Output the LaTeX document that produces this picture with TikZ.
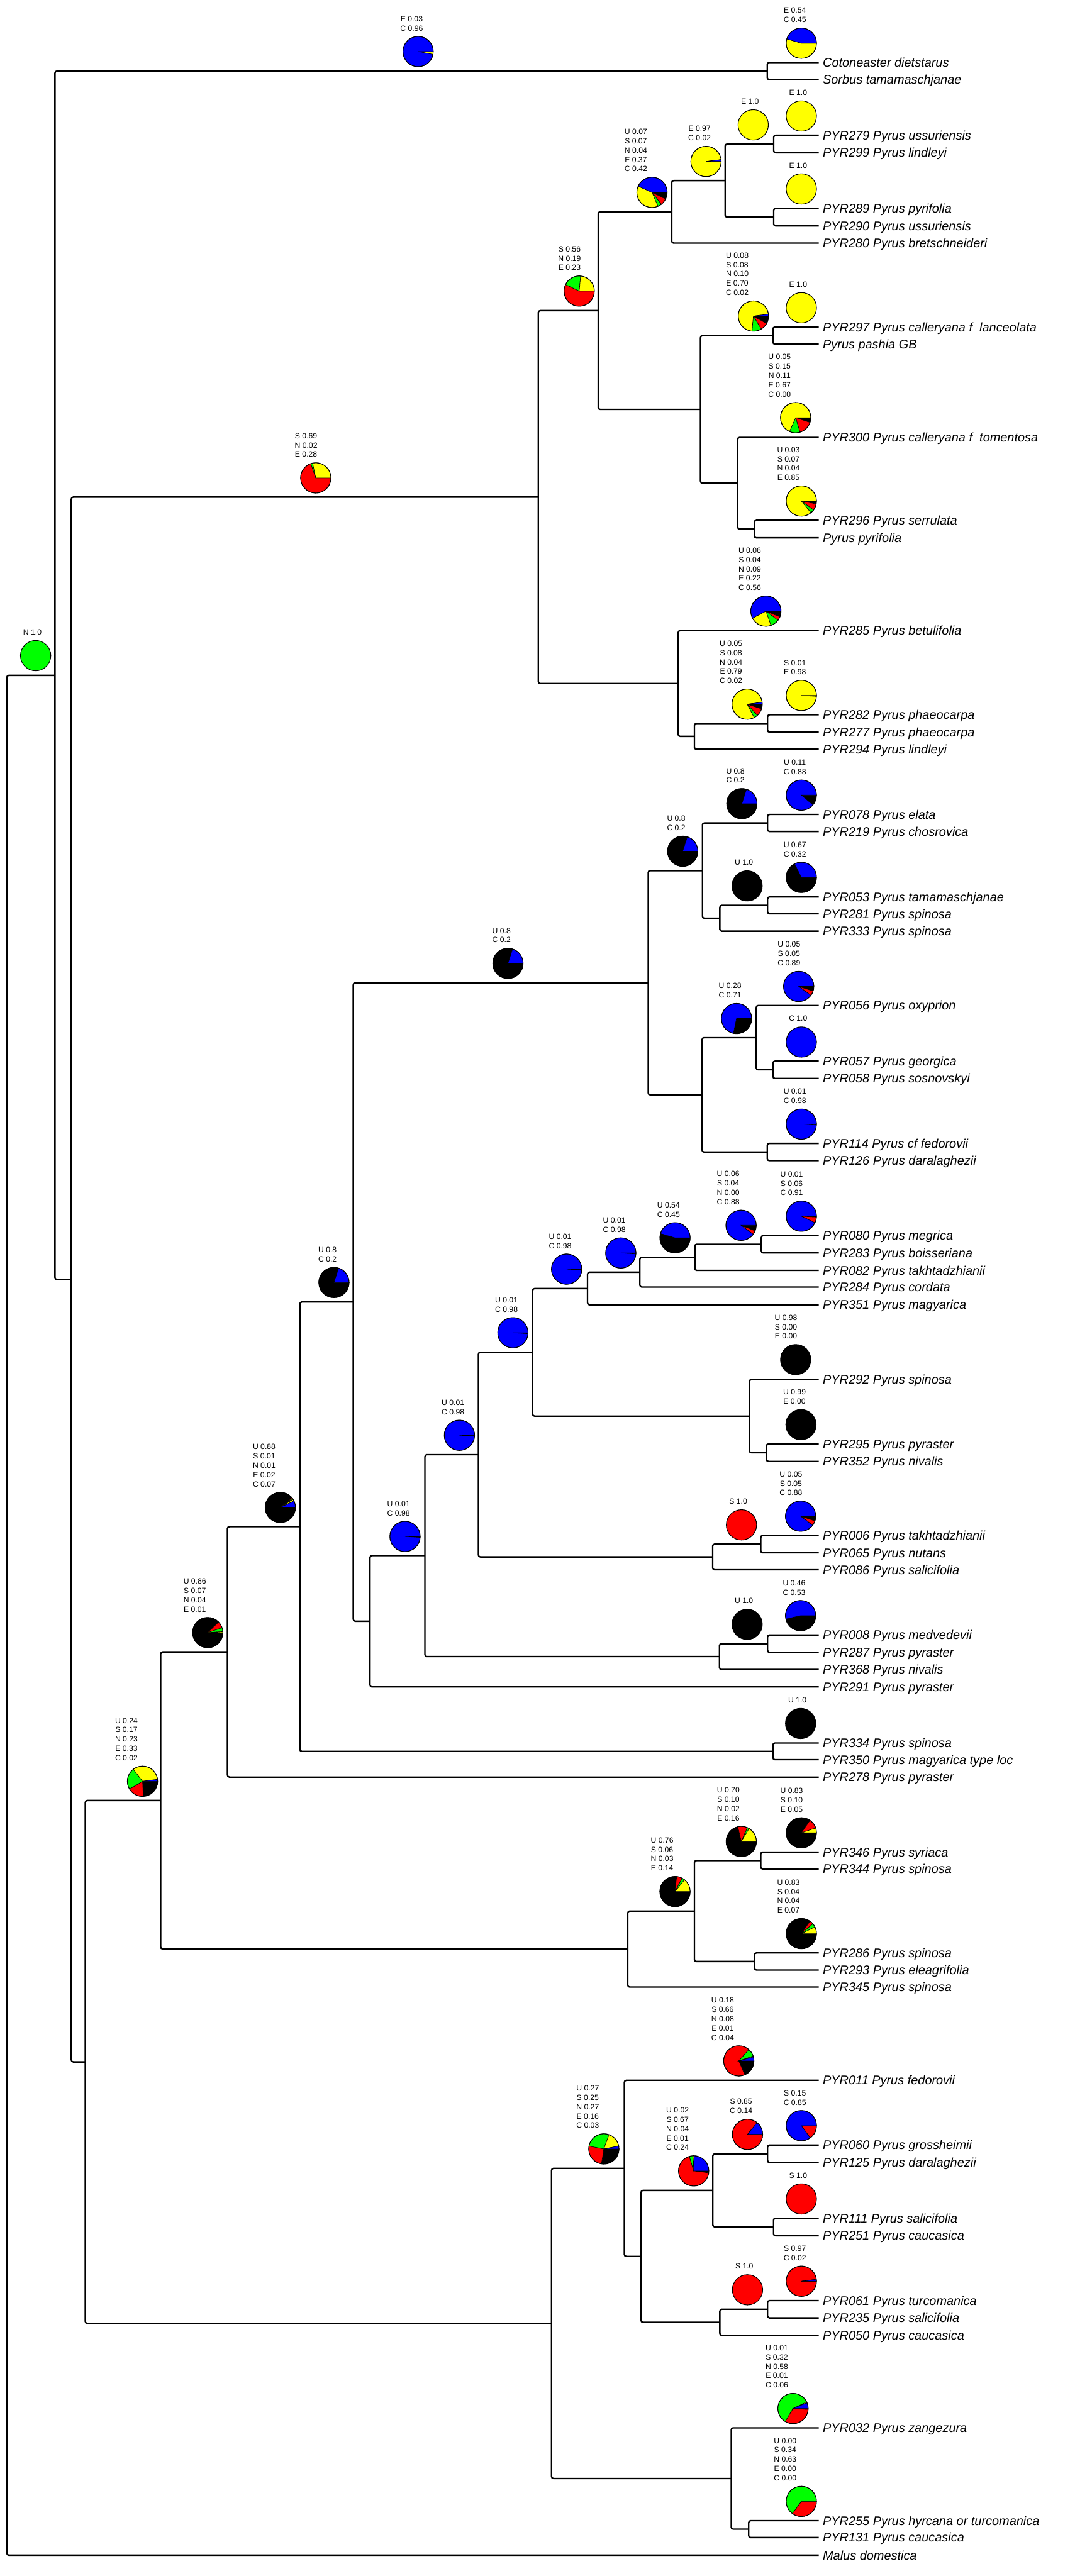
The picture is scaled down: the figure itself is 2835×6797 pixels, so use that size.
\documentclass[tikz,border=0pt]{standalone}
\usepackage{fontspec}
\setmainfont{Liberation Sans}
\definecolor{sblue}{RGB}{0,0,255}
\definecolor{sred}{RGB}{255,0,0}
\definecolor{sgreen}{RGB}{0,255,0}
\definecolor{syellow}{RGB}{255,255,0}

\newcommand{\pieslice}[2]{%
  \pgfmathsetmacro{\piefrac}{#1/\pietot}%
  \ifdim\piefrac pt>0.999pt
    \fill[#2] (0,0) circle (0.4);
  \else\ifdim\piefrac pt>0.0005pt
    \pgfmathsetmacro{\pieend}{\piestart-360*\piefrac}%
    \filldraw[fill=#2, draw=black, line width=0.3pt] (0,0) -- (\piestart:0.4) arc[start angle=\piestart, end angle=\pieend, radius=0.4] -- cycle;
    \let\piestart\pieend
  \fi\fi}

\newcommand{\piechart}[9]{%
  \coordinate (#1) at #2;
  \pgfmathsetmacro{\pietot}{#3+#4+#5+#6+#7}%
  \begin{scope}[shift={(#1)}, x=1cm, y=1cm]
    \def\piestart{0}%
    \pieslice{#3}{black}
    \pieslice{#4}{sred}
    \pieslice{#5}{sgreen}
    \pieslice{#6}{syellow}
    \pieslice{#7}{sblue}
    \draw[line width=0.5pt] (0,0) circle (0.4);
  \end{scope}
  \pgfmathsetmacro{\piexs}{-0.085*#8}%
  \node[pielabel] (#1l) at ([xshift=\piexs cm, yshift=0.537cm]#1) {#9};
}

\begin{document}
\begin{tikzpicture}[x=0.01cm, y=-0.01cm,
    branch/.style={line width=1.1pt, rounded corners=1.5pt},
    tiplabel/.style={anchor=base west, inner sep=0pt, xshift=0.1cm, yshift=-3.35pt, font=\fontsize{9.4}{11}\selectfont\itshape},
    pielabel/.style={anchor=south, inner sep=0pt, align=center, font=\fontsize{5.75}{7}\selectfont}]
\useasboundingbox (0,0) rectangle (2835,6797);

% tips
\coordinate (tCot) at (2160,165);   \node[tiplabel] (lCot) at (tCot) {Cotoneaster dietstarus};
\coordinate (tSor) at (2160,210);   \node[tiplabel] (lSor) at (tSor) {Sorbus tamamaschjanae};
\coordinate (t279) at (2160,357);   \node[tiplabel] (l279) at (t279) {PYR279 Pyrus ussuriensis};
\coordinate (t299) at (2160,403);   \node[tiplabel] (l299) at (t299) {PYR299 Pyrus lindleyi};
\coordinate (t289) at (2160,550);   \node[tiplabel] (l289) at (t289) {PYR289 Pyrus pyrifolia};
\coordinate (t290) at (2160,596);   \node[tiplabel] (l290) at (t290) {PYR290 Pyrus ussuriensis};
\coordinate (t280) at (2160,641.5); \node[tiplabel] (l280) at (t280) {PYR280 Pyrus bretschneideri};
\coordinate (t297) at (2160,863);   \node[tiplabel] (l297) at (t297) {PYR297 Pyrus calleryana f~~lanceolata};
\coordinate (tPas) at (2160,908);   \node[tiplabel] (lPas) at (tPas) {Pyrus pashia GB};
\coordinate (t300) at (2160,1154);  \node[tiplabel] (l300) at (t300) {PYR300 Pyrus calleryana f~~tomentosa};
\coordinate (t296) at (2160,1373);  \node[tiplabel] (l296) at (t296) {PYR296 Pyrus serrulata};
\coordinate (tPyr) at (2160,1419);  \node[tiplabel] (lPyr) at (tPyr) {Pyrus pyrifolia};
\coordinate (t285) at (2160,1664);  \node[tiplabel] (l285) at (t285) {PYR285 Pyrus betulifolia};
\coordinate (t282) at (2160,1886);  \node[tiplabel] (l282) at (t282) {PYR282 Pyrus phaeocarpa};
\coordinate (t277) at (2160,1932);  \node[tiplabel] (l277) at (t277) {PYR277 Pyrus phaeocarpa};
\coordinate (t294) at (2160,1977);  \node[tiplabel] (l294) at (t294) {PYR294 Pyrus lindleyi};
\coordinate (t078) at (2160,2149);  \node[tiplabel] (l078) at (t078) {PYR078 Pyrus elata};
\coordinate (t219) at (2160,2194);  \node[tiplabel] (l219) at (t219) {PYR219 Pyrus chosrovica};
\coordinate (t053) at (2160,2366.5);\node[tiplabel] (l053) at (t053) {PYR053 Pyrus tamamaschjanae};
\coordinate (t281) at (2160,2411);  \node[tiplabel] (l281) at (t281) {PYR281 Pyrus spinosa};
\coordinate (t333) at (2160,2457);  \node[tiplabel] (l333) at (t333) {PYR333 Pyrus spinosa};
\coordinate (t056) at (2160,2653);  \node[tiplabel] (l056) at (t056) {PYR056 Pyrus oxyprion};
\coordinate (t057) at (2160,2800);  \node[tiplabel] (l057) at (t057) {PYR057 Pyrus georgica};
\coordinate (t058) at (2160,2845.5);\node[tiplabel] (l058) at (t058) {PYR058 Pyrus sosnovskyi};
\coordinate (t114) at (2160,3017);  \node[tiplabel] (l114) at (t114) {PYR114 Pyrus cf fedorovii};
\coordinate (t126) at (2160,3062.5);\node[tiplabel] (l126) at (t126) {PYR126 Pyrus daralaghezii};
\coordinate (t080) at (2160,3260);  \node[tiplabel] (l080) at (t080) {PYR080 Pyrus megrica};
\coordinate (t283) at (2160,3306);  \node[tiplabel] (l283) at (t283) {PYR283 Pyrus boisseriana};
\coordinate (t082) at (2160,3352);  \node[tiplabel] (l082) at (t082) {PYR082 Pyrus takhtadzhianii};
\coordinate (t284) at (2160,3396);  \node[tiplabel] (l284) at (t284) {PYR284 Pyrus cordata};
\coordinate (t351) at (2160,3443);  \node[tiplabel] (l351) at (t351) {PYR351 Pyrus magyarica};
\coordinate (t292) at (2160,3640);  \node[tiplabel] (l292) at (t292) {PYR292 Pyrus spinosa};
\coordinate (t295) at (2160,3810);  \node[tiplabel] (l295) at (t295) {PYR295 Pyrus pyraster};
\coordinate (t352) at (2160,3856);  \node[tiplabel] (l352) at (t352) {PYR352 Pyrus nivalis};
\coordinate (t006) at (2160,4051.5);\node[tiplabel] (l006) at (t006) {PYR006 Pyrus takhtadzhianii};
\coordinate (t065) at (2160,4097);  \node[tiplabel] (l065) at (t065) {PYR065 Pyrus nutans};
\coordinate (t086) at (2160,4142);  \node[tiplabel] (l086) at (t086) {PYR086 Pyrus salicifolia};
\coordinate (t008) at (2160,4314);  \node[tiplabel] (l008) at (t008) {PYR008 Pyrus medvedevii};
\coordinate (t287) at (2160,4360);  \node[tiplabel] (l287) at (t287) {PYR287 Pyrus pyraster};
\coordinate (t368) at (2160,4405);  \node[tiplabel] (l368) at (t368) {PYR368 Pyrus nivalis};
\coordinate (t291) at (2160,4451);  \node[tiplabel] (l291) at (t291) {PYR291 Pyrus pyraster};
\coordinate (t334) at (2160,4599);  \node[tiplabel] (l334) at (t334) {PYR334 Pyrus spinosa};
\coordinate (t350) at (2160,4643);  \node[tiplabel] (l350) at (t350) {PYR350 Pyrus magyarica type loc};
\coordinate (t278) at (2160,4689);  \node[tiplabel] (l278) at (t278) {PYR278 Pyrus pyraster};
\coordinate (t346) at (2160,4887);  \node[tiplabel] (l346) at (t346) {PYR346 Pyrus syriaca};
\coordinate (t344) at (2160,4931.5);\node[tiplabel] (l344) at (t344) {PYR344 Pyrus spinosa};
\coordinate (t286) at (2160,5153);  \node[tiplabel] (l286) at (t286) {PYR286 Pyrus spinosa};
\coordinate (t293) at (2160,5198);  \node[tiplabel] (l293) at (t293) {PYR293 Pyrus eleagrifolia};
\coordinate (t345) at (2160,5243);  \node[tiplabel] (l345) at (t345) {PYR345 Pyrus spinosa};
\coordinate (t011) at (2160,5489);  \node[tiplabel] (l011) at (t011) {PYR011 Pyrus fedorovii};
\coordinate (t060) at (2160,5660);  \node[tiplabel] (l060) at (t060) {PYR060 Pyrus grossheimii};
\coordinate (t125) at (2160,5706);  \node[tiplabel] (l125) at (t125) {PYR125 Pyrus daralaghezii};
\coordinate (t111) at (2160,5853);  \node[tiplabel] (l111) at (t111) {PYR111 Pyrus salicifolia};
\coordinate (t251) at (2160,5899);  \node[tiplabel] (l251) at (t251) {PYR251 Pyrus caucasica};
\coordinate (t061) at (2160,6070);  \node[tiplabel] (l061) at (t061) {PYR061 Pyrus turcomanica};
\coordinate (t235) at (2160,6116);  \node[tiplabel] (l235) at (t235) {PYR235 Pyrus salicifolia};
\coordinate (t050) at (2160,6162);  \node[tiplabel] (l050) at (t050) {PYR050 Pyrus caucasica};
\coordinate (t032) at (2160,6406);  \node[tiplabel] (l032) at (t032) {PYR032 Pyrus zangezura};
\coordinate (t255) at (2160,6651);  \node[tiplabel] (l255) at (t255) {PYR255 Pyrus hyrcana or turcomanica};
\coordinate (t131) at (2160,6695.5);\node[tiplabel] (l131) at (t131) {PYR131 Pyrus caucasica};
\coordinate (tMal) at (2160,6742);  \node[tiplabel] (lMal) at (tMal) {Malus domestica};

% inner nodes
\coordinate (nRoot) at (18,4262);
\coordinate (nRos)  at (145,1782);
\coordinate (nOut)  at (2024,187.5);
\coordinate (nPyr)  at (188,3376);
\coordinate (nAsia) at (1420,1311.6);
\coordinate (nAs1)  at (1578,819.6);
\coordinate (nAs2)  at (1772,559);
\coordinate (nAs3)  at (1913,476.5);
\coordinate (nAs4)  at (2041,380);
\coordinate (nAs5)  at (2041,573);
\coordinate (nAs6)  at (1848,1080.25);
\coordinate (nAs7)  at (2039,885.5);
\coordinate (nAs8)  at (1946,1275);
\coordinate (nAs9)  at (1990,1396);
\coordinate (nBet)  at (1789,1803.5);
\coordinate (nBet1) at (1832,1943);
\coordinate (nBet2) at (2025,1909);
\coordinate (nWest) at (225,5440.5);
\coordinate (nCau)  at (424,4750.6);
\coordinate (nC1)   at (600,4358.6);
\coordinate (nC2)   at (791,4028.2);
\coordinate (nC3)   at (932,3435.4);
\coordinate (nC4)   at (1710,2593);
\coordinate (nC5)   at (1853,2297.2);
\coordinate (nC6)   at (2025,2171.5);
\coordinate (nC7)   at (1899,2422.9);
\coordinate (nC8)   at (2025,2388.75);
\coordinate (nC9)   at (1852,2888.8);
\coordinate (nC10)  at (1995,2737.9);
\coordinate (nC11)  at (2039,2822.75);
\coordinate (nC12)  at (2024,3039.75);
\coordinate (nC13)  at (976,4277.8);
\coordinate (nC14)  at (1121,4104.6);
\coordinate (nC15)  at (1262,3838.2);
\coordinate (nC16)  at (1405,3568.2);
\coordinate (nC17)  at (1550,3399.9);
\coordinate (nC18)  at (1688,3356.75);
\coordinate (nC19)  at (1833,3317.5);
\coordinate (nC20)  at (2008.5,3283);
\coordinate (nC21)  at (1977,3736.5);
\coordinate (nC22)  at (2022,3833);
\coordinate (nC23)  at (1880,4108.1);
\coordinate (nC24)  at (2007,4074.25);
\coordinate (nC25)  at (1898,4371);
\coordinate (nC26)  at (2025,4337);
\coordinate (nC27)  at (2039,4621);
\coordinate (nSyr)  at (1656,5142.7);
\coordinate (nSyr1) at (1832,5042.4);
\coordinate (nSyr2) at (2007,4909.25);
\coordinate (nSyr3) at (1990,5175.5);
\coordinate (nSal)  at (1455,6130.4);
\coordinate (nSal1) at (1647,5721.25);
\coordinate (nSal2) at (1691,5953.5);
\coordinate (nSal3) at (1880.5,5779.5);
\coordinate (nSal4) at (2025,5683);
\coordinate (nSal5) at (2040.6,5876);
\coordinate (nSal6) at (1899,6127.5);
\coordinate (nSal7) at (2025,6093);
\coordinate (nSal8) at (1929,6539.6);
\coordinate (nSal9) at (1975,6673.25);

% branches
\draw[branch] (nRoot) |- (nRos)  (nRoot) |- (tMal);
\draw[branch] (nRos) |- (nOut)   (nRos) |- (nPyr);
\draw[branch] (nOut) |- (tCot)   (nOut) |- (tSor);
\draw[branch] (nPyr) |- (nAsia)  (nPyr) |- (nWest);
\draw[branch] (nAsia) |- (nAs1)  (nAsia) |- (nBet);
\draw[branch] (nAs1) |- (nAs2)   (nAs1) |- (nAs6);
\draw[branch] (nAs2) |- (nAs3)   (nAs2) |- (t280);
\draw[branch] (nAs3) |- (nAs4)   (nAs3) |- (nAs5);
\draw[branch] (nAs4) |- (t279)   (nAs4) |- (t299);
\draw[branch] (nAs5) |- (t289)   (nAs5) |- (t290);
\draw[branch] (nAs6) |- (nAs7)   (nAs6) |- (nAs8);
\draw[branch] (nAs7) |- (t297)   (nAs7) |- (tPas);
\draw[branch] (nAs8) |- (t300)   (nAs8) |- (nAs9);
\draw[branch] (nAs9) |- (t296)   (nAs9) |- (tPyr);
\draw[branch] (nBet) |- (t285)   (nBet) |- (nBet1);
\draw[branch] (nBet1) |- (nBet2) (nBet1) |- (t294);
\draw[branch] (nBet2) |- (t282)  (nBet2) |- (t277);
\draw[branch] (nWest) |- (nCau)  (nWest) |- (nSal);
\draw[branch] (nCau) |- (nC1)    (nCau) |- (nSyr);
\draw[branch] (nC1) |- (nC2)     (nC1) |- (t278);
\draw[branch] (nC2) |- (nC3)     (nC2) |- (nC27);
\draw[branch] (nC27) |- (t334)   (nC27) |- (t350);
\draw[branch] (nC3) |- (nC4)     (nC3) |- (nC13);
\draw[branch] (nC4) |- (nC5)     (nC4) |- (nC9);
\draw[branch] (nC5) |- (nC6)     (nC5) |- (nC7);
\draw[branch] (nC6) |- (t078)    (nC6) |- (t219);
\draw[branch] (nC7) |- (nC8)     (nC7) |- (t333);
\draw[branch] (nC8) |- (t053)    (nC8) |- (t281);
\draw[branch] (nC9) |- (nC10)    (nC9) |- (nC12);
\draw[branch] (nC10) |- (t056)   (nC10) |- (nC11);
\draw[branch] (nC11) |- (t057)   (nC11) |- (t058);
\draw[branch] (nC12) |- (t114)   (nC12) |- (t126);
\draw[branch] (nC13) |- (nC14)   (nC13) |- (t291);
\draw[branch] (nC14) |- (nC15)   (nC14) |- (nC25);
\draw[branch] (nC15) |- (nC16)   (nC15) |- (nC23);
\draw[branch] (nC16) |- (nC17)   (nC16) |- (nC21);
\draw[branch] (nC17) |- (nC18)   (nC17) |- (t351);
\draw[branch] (nC18) |- (nC19)   (nC18) |- (t284);
\draw[branch] (nC19) |- (nC20)   (nC19) |- (t082);
\draw[branch] (nC20) |- (t080)   (nC20) |- (t283);
\draw[branch] (nC21) |- (t292)   (nC21) |- (nC22);
\draw[branch] (nC22) |- (t295)   (nC22) |- (t352);
\draw[branch] (nC23) |- (nC24)   (nC23) |- (t086);
\draw[branch] (nC24) |- (t006)   (nC24) |- (t065);
\draw[branch] (nC25) |- (nC26)   (nC25) |- (t368);
\draw[branch] (nC26) |- (t008)   (nC26) |- (t287);
\draw[branch] (nSyr) |- (nSyr1)  (nSyr) |- (t345);
\draw[branch] (nSyr1) |- (nSyr2) (nSyr1) |- (nSyr3);
\draw[branch] (nSyr2) |- (t346)  (nSyr2) |- (t344);
\draw[branch] (nSyr3) |- (t286)  (nSyr3) |- (t293);
\draw[branch] (nSal) |- (nSal1)  (nSal) |- (nSal8);
\draw[branch] (nSal1) |- (t011)  (nSal1) |- (nSal2);
\draw[branch] (nSal2) |- (nSal3) (nSal2) |- (nSal6);
\draw[branch] (nSal3) |- (nSal4) (nSal3) |- (nSal5);
\draw[branch] (nSal4) |- (t060)  (nSal4) |- (t125);
\draw[branch] (nSal5) |- (t111)  (nSal5) |- (t251);
\draw[branch] (nSal6) |- (nSal7) (nSal6) |- (t050);
\draw[branch] (nSal7) |- (t061)  (nSal7) |- (t235);
\draw[branch] (nSal8) |- (t032)  (nSal8) |- (nSal9);
\draw[branch] (nSal9) |- (t255)  (nSal9) |- (t131);

% pies: U S N E C
\piechart{pOut}{(1103,136)}{0}{0}{0}{0.03}{0.96}{2}{E 0.03\\C 0.96}
\piechart{pCot}{(2114,114)}{0}{0}{0}{0.54}{0.45}{2}{E 0.54\\C 0.45}
\piechart{p279}{(2114,306)}{0}{0}{0}{1.0}{0}{1}{E 1.0}
\piechart{pAs4}{(1987,329.5)}{0}{0}{0}{1.0}{0}{1}{E 1.0}
\piechart{pAs3}{(1862.5,426)}{0}{0}{0}{0.97}{0.02}{2}{E 0.97\\C 0.02}
\piechart{pAs2}{(1720,507.6)}{0.07}{0.07}{0.04}{0.37}{0.42}{5}{U 0.07\\S 0.07\\N 0.04\\E 0.37\\C 0.42}
\piechart{p289}{(2114,498.6)}{0}{0}{0}{1.0}{0}{1}{E 1.0}
\piechart{pAs1}{(1528,768)}{0}{0.56}{0.19}{0.23}{0}{3}{S 0.56\\N 0.19\\E 0.23}
\piechart{pAs7}{(1987.5,834)}{0.08}{0.08}{0.10}{0.70}{0.02}{5}{U 0.08\\S 0.08\\N 0.10\\E 0.70\\C 0.02}
\piechart{p297}{(2114,812)}{0}{0}{0}{1.0}{0}{1}{E 1.0}
\piechart{p300}{(2099,1102)}{0.05}{0.15}{0.11}{0.67}{0}{5}{U 0.05\\S 0.15\\N 0.11\\E 0.67\\C 0.00}
\piechart{p296}{(2114,1322)}{0.03}{0.07}{0.04}{0.85}{0}{4}{U 0.03\\S 0.07\\N 0.04\\E 0.85}
\piechart{p285}{(2020.5,1612.5)}{0.06}{0.04}{0.09}{0.22}{0.56}{5}{U 0.06\\S 0.04\\N 0.09\\E 0.22\\C 0.56}
\piechart{pBet2}{(1971,1858)}{0.05}{0.08}{0.04}{0.79}{0.02}{5}{U 0.05\\S 0.08\\N 0.04\\E 0.79\\C 0.02}
\piechart{p282}{(2114,1835)}{0}{0.01}{0}{0.98}{0}{2}{S 0.01\\E 0.98}
\piechart{pC5}{(1801,2246)}{0.8}{0}{0}{0}{0.2}{2}{U 0.8\\C 0.2}
\piechart{pC6}{(1957,2120.5)}{0.8}{0}{0}{0}{0.2}{2}{U 0.8\\C 0.2}
\piechart{p078}{(2114,2098)}{0.11}{0}{0}{0}{0.88}{2}{U 0.11\\C 0.88}
\piechart{pC8}{(1971,2337.5)}{1.0}{0}{0}{0}{0}{1}{U 1.0}
\piechart{p053}{(2114,2315)}{0.67}{0}{0}{0}{0.32}{2}{U 0.67\\C 0.32}
\piechart{p056}{(2107,2602.7)}{0.05}{0.05}{0}{0}{0.89}{3}{U 0.05\\S 0.05\\C 0.89}
\piechart{pC10}{(1943,2687.5)}{0.28}{0}{0}{0}{0.71}{2}{U 0.28\\C 0.71}
\piechart{p057}{(2114,2749.5)}{0}{0}{0}{0}{1.0}{1}{C 1.0}
\piechart{p114}{(2114,2966)}{0.01}{0}{0}{0}{0.98}{2}{U 0.01\\C 0.98}
\piechart{pC20}{(1955,3233)}{0.06}{0.04}{0}{0}{0.88}{4}{U 0.06\\S 0.04\\N 0.00\\C 0.88}
\piechart{p080}{(2114,3209)}{0.01}{0.06}{0}{0}{0.91}{3}{U 0.01\\S 0.06\\C 0.91}
\piechart{pC19}{(1780.7,3266)}{0.54}{0}{0}{0}{0.45}{2}{U 0.54\\C 0.45}
\piechart{pC18}{(1637.7,3306)}{0.01}{0}{0}{0}{0.98}{2}{U 0.01\\C 0.98}
\piechart{pC17}{(1494.8,3348.7)}{0.01}{0}{0}{0}{0.98}{2}{U 0.01\\C 0.98}
\piechart{pC16}{(1353,3516.5)}{0.01}{0}{0}{0}{0.98}{2}{U 0.01\\C 0.98}
\piechart{pC15}{(1212,3787)}{0.01}{0}{0}{0}{0.98}{2}{U 0.01\\C 0.98}
\piechart{pC3}{(881,3384)}{0.8}{0}{0}{0}{0.2}{2}{U 0.8\\C 0.2}
\piechart{p292}{(2099,3587.5)}{0.98}{0}{0}{0}{0}{3}{U 0.98\\S 0.00\\E 0.00}
\piechart{p295}{(2113,3759)}{0.99}{0}{0}{0}{0}{2}{U 0.99\\E 0.00}
\piechart{pC2}{(739.5,3977.5)}{0.88}{0.01}{0.01}{0.02}{0.07}{5}{U 0.88\\S 0.01\\N 0.01\\E 0.02\\C 0.07}
\piechart{pC14}{(1068.5,4054)}{0.01}{0}{0}{0}{0.98}{2}{U 0.01\\C 0.98}
\piechart{pC24}{(1956,4023.5)}{0}{1.0}{0}{0}{0}{1}{S 1.0}
\piechart{p006}{(2112,4000.5)}{0.05}{0.05}{0}{0}{0.88}{3}{U 0.05\\S 0.05\\C 0.88}
\piechart{pC1}{(548,4307.7)}{0.86}{0.07}{0.04}{0.01}{0}{4}{U 0.86\\S 0.07\\N 0.04\\E 0.01}
\piechart{pC26}{(1971,4286)}{1.0}{0}{0}{0}{0}{1}{U 1.0}
\piechart{p008}{(2112,4263)}{0.46}{0}{0}{0}{0.53}{2}{U 0.46\\C 0.53}
\piechart{p334}{(2112,4547.5)}{1.0}{0}{0}{0}{0}{1}{U 1.0}
\piechart{pCau}{(376,4700)}{0.24}{0.17}{0.23}{0.33}{0.02}{5}{U 0.24\\S 0.17\\N 0.23\\E 0.33\\C 0.02}
\piechart{pSyr1}{(1780.7,4991)}{0.76}{0.06}{0.03}{0.14}{0}{4}{U 0.76\\S 0.06\\N 0.03\\E 0.14}
\piechart{pSyr2}{(1955.5,4859)}{0.70}{0.10}{0.02}{0.16}{0}{4}{U 0.70\\S 0.10\\N 0.02\\E 0.16}
\piechart{p346}{(2114,4836)}{0.83}{0.10}{0}{0.05}{0}{3}{U 0.83\\S 0.10\\E 0.05}
\piechart{p286}{(2114,5102)}{0.83}{0.04}{0.04}{0.07}{0}{4}{U 0.83\\S 0.04\\N 0.04\\E 0.07}
\piechart{p011}{(1949,5437.8)}{0.18}{0.66}{0.08}{0.01}{0.04}{5}{U 0.18\\S 0.66\\N 0.08\\E 0.01\\C 0.04}
\piechart{pSal1}{(1593,5670)}{0.27}{0.25}{0.27}{0.16}{0.03}{5}{U 0.27\\S 0.25\\N 0.27\\E 0.16\\C 0.03}
\piechart{pSal3}{(1830,5728)}{0.02}{0.67}{0.04}{0.01}{0.24}{5}{U 0.02\\S 0.67\\N 0.04\\E 0.01\\C 0.24}
\piechart{pSal4}{(1972,5631.6)}{0}{0.85}{0}{0}{0.14}{2}{S 0.85\\C 0.14}
\piechart{p060}{(2114,5608.7)}{0}{0.15}{0}{0}{0.85}{2}{S 0.15\\C 0.85}
\piechart{p111}{(2114,5802)}{0}{1.0}{0}{0}{0}{1}{S 1.0}
\piechart{pSal7}{(1972,6041.7)}{0}{1.0}{0}{0}{0}{1}{S 1.0}
\piechart{p061}{(2114,6019)}{0}{0.97}{0}{0}{0.02}{2}{S 0.97\\C 0.02}
\piechart{p032}{(2092,6355)}{0.01}{0.32}{0.58}{0.01}{0.06}{5}{U 0.01\\S 0.32\\N 0.58\\E 0.01\\C 0.06}
\piechart{p255}{(2114,6600)}{0}{0.34}{0.63}{0}{0}{5}{U 0.00\\S 0.34\\N 0.63\\E 0.00\\C 0.00}
\piechart{pRos}{(94,1730)}{0}{0}{1.0}{0}{0}{1}{N 1.0}
\piechart{pAsia}{(833,1261)}{0}{0.69}{0.02}{0.28}{0}{3}{S 0.69\\N 0.02\\E 0.28}
\piechart{pC4}{(1340,2542)}{0.8}{0}{0}{0}{0.2}{2}{U 0.8\\C 0.2}
\end{tikzpicture}
\end{document}
